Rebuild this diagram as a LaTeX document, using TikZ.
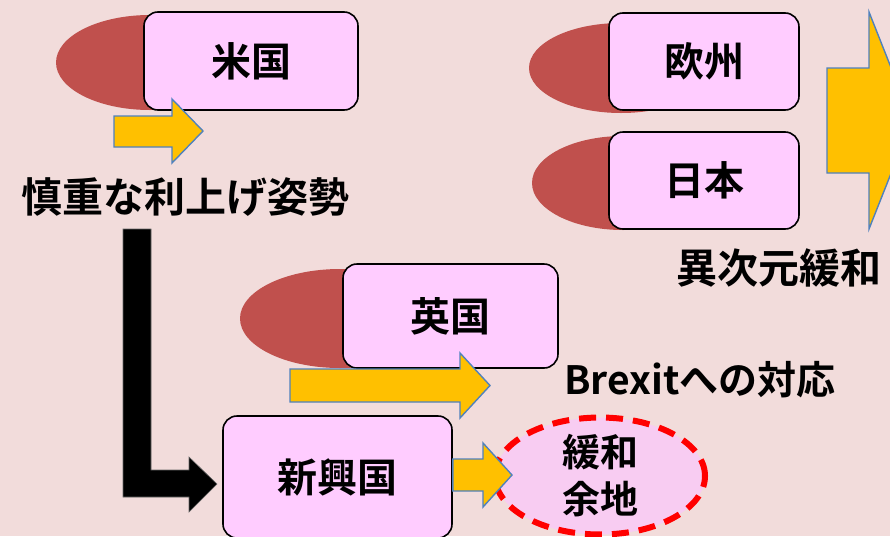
\documentclass[tikz,border=0pt]{standalone}
\usepackage{fontspec}
\setmainfont{Noto Sans CJK JP}[BoldFont={Noto Sans CJK JP Bold}]
\usetikzlibrary{shapes.geometric}
\definecolor{bgpink}{HTML}{F2DCDB}
\definecolor{boxpink}{HTML}{FFCCFF}
\definecolor{darkred}{HTML}{C0504D}
\definecolor{arrowyellow}{HTML}{FFC000}
\definecolor{arrowblue}{HTML}{4F81BD}
\definecolor{softpink}{HTML}{F8CCF2}
\definecolor{dashred}{HTML}{FF0000}
\tikzset{
  box/.style={draw=black, line width=1.6pt, fill=boxpink, rounded corners=14pt,
    font=\fontsize{40}{44}\selectfont\bfseries, inner sep=0pt},
  shadowell/.style={fill=darkred},
  blockarrow/.style={fill=arrowyellow, draw=arrowblue, line width=1.4pt, line join=miter},
  bigblack/.style={fill=black, draw=black!60, line width=0.6pt},
  label/.style={font=\fontsize{41}{45}\selectfont\bfseries, inner sep=0pt},
  goal/.style={ellipse, draw=dashred, fill=softpink, line width=6pt,
    dash pattern=on 17pt off 10pt, minimum width=210pt, minimum height=110pt,
    inner sep=0pt, align=center, font=\fontsize{38}{47}\selectfont\bfseries}
}
\begin{document}
\begin{tikzpicture}[x=1pt,y=-1pt]
\useasboundingbox (0,0) rectangle (890,536);
\clip (0,0) rectangle (890,536);
\fill[bgpink] (0,0) rectangle (890,536);

% shadow ellipses
\fill[shadowell] (150,62.5) ellipse [x radius=94pt, y radius=47.5pt];
\fill[shadowell] (621,68) ellipse [x radius=92pt, y radius=45pt];
\fill[shadowell] (623,183) ellipse [x radius=91pt, y radius=47pt];
\fill[shadowell] (340,318.5) ellipse [x radius=100pt, y radius=49.5pt];

% boxes
\node[box, minimum width=214pt, minimum height=98pt] (us) at (251,61) {米国};
\node[box, minimum width=190pt, minimum height=97pt] (eu) at (704,61.5) {欧州};
\node[box, minimum width=190pt, minimum height=97pt] (jp) at (704,180.5) {日本};
\node[box, minimum width=215pt, minimum height=104pt] (uk) at (450.5,316) {英国};
\node[box, minimum width=229pt, minimum height=122pt] (em) at (337.5,477) {新興国};

% goal ellipse
\node[goal] (room) at (600,476) {緩和\\余地};

% labels
\node[label] (uslbl) at (185,197) {慎重な利上げ姿勢};
\node[label, anchor=west] (jplbl) at (676,268) {異次元緩和};
\node[label, anchor=west, font=\fontsize{39}{43}\selectfont\bfseries] (uklbl) at (564,380) {Brexitへの対応};

% yellow block arrows
\draw[blockarrow] (114,116) -- (172,116) -- (172,99) -- (203,131) -- (172,163) -- (172,147) -- (114,147) -- cycle;
\draw[blockarrow] (290,369) -- (460,369) -- (460,353) -- (490,385.5) -- (460,418) -- (460,402) -- (290,402) -- cycle;
\draw[blockarrow] (em.east |- 0,459) -- (483,459) -- (483,443) -- (512,475) -- (483,507) -- (483,491) -- (em.east |- 0,491) -- cycle;
\draw[blockarrow] (827,68) -- (869,68) -- (869,12) -- (912,120.5) -- (869,229) -- (869,173) -- (827,173) -- cycle;

% black L arrow
\draw[bigblack] (123,229) -- (151,229) -- (151,470) -- (189,470) -- (189,457) -- (217,484) -- (189,512) -- (189,497) -- (123,497) -- cycle;
\end{tikzpicture}
\end{document}
